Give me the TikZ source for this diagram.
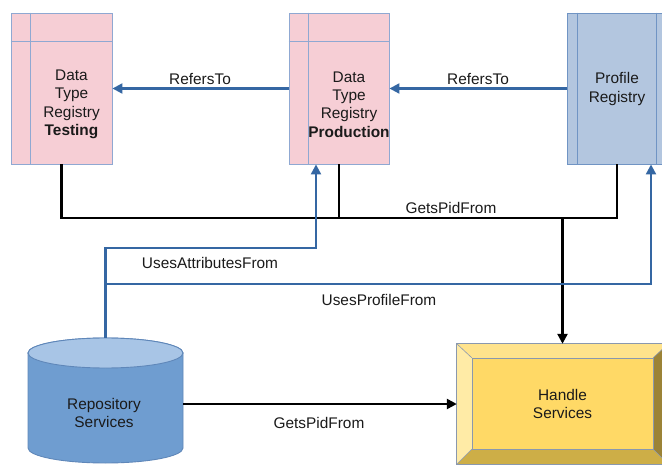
\documentclass[tikz,border=0pt]{standalone}
\usepackage{fontspec}
\setmainfont{Liberation Sans}
\usetikzlibrary{arrows.meta,calc}
\definecolor{pinkfill}{HTML}{F6CED5}
\definecolor{pinkdraw}{HTML}{8FA8D2}
\definecolor{proffill}{HTML}{B3C6DF}
\definecolor{profdraw}{HTML}{7094C4}
\definecolor{linkblue}{HTML}{3567A3}
\definecolor{cylbody}{HTML}{6F9DD0}
\definecolor{cyltop}{HTML}{A8C5E6}
\definecolor{cyldraw}{HTML}{5F87B9}
\definecolor{hmain}{HTML}{FFD966}
\definecolor{htop}{HTML}{FFE38C}
\definecolor{hleft}{HTML}{FFEBA6}
\definecolor{hbot}{HTML}{CDAE47}
\definecolor{hright}{HTML}{9C8336}
\definecolor{hdraw}{HTML}{8A98AE}
\definecolor{txt}{HTML}{1A1A1A}
\begin{document}
\begin{tikzpicture}[x=1bp,y=-1bp,
  every node/.style={font=\fontsize{15.4bp}{18.4bp}\selectfont, text=txt, inner sep=0pt},
  regbox/.style={draw=pinkdraw, fill=pinkfill, line width=0.9bp, minimum width=101bp, minimum height=151bp},
  profbox/.style={draw=profdraw, fill=proffill, line width=0.9bp, minimum width=100bp, minimum height=151bp},
  innerline/.style={line width=0.9bp},
  bluelink/.style={draw=linkblue, line width=2.2bp},
  bluearrow/.style={bluelink, -{Triangle[length=10bp,width=10bp]}},
  blacklink/.style={draw=black, line width=2.4bp},
  blackarrow/.style={blacklink, -{Triangle[length=10bp,width=10bp]}},
  lbl/.style={align=center},
  boxtext/.style={align=center}
]
\useasboundingbox (0,0) rectangle (662,465);
\fill[white] (0,0) rectangle (662,465);

% Data Type Registry Testing
\node[regbox] (tst) at (61.5,88.5) {};
\draw[innerline, pinkdraw] ([xshift=20bp]tst.north west) -- ([xshift=20bp]tst.south west);
\draw[innerline, pinkdraw] ([yshift=-29bp]tst.north west) -- ([yshift=-29bp]tst.north east);
\node[boxtext] (tsttxt) at (71.5,104.5) {Data\\Type\\Registry\\\textbf{Testing}};

% Data Type Registry Production
\node[regbox, minimum width=100bp] (prd) at (339,88.5) {};
\draw[innerline, pinkdraw] ([xshift=20bp]prd.north west) -- ([xshift=20bp]prd.south west);
\draw[innerline, pinkdraw] ([yshift=-29bp]prd.north west) -- ([yshift=-29bp]prd.north east);
\node[boxtext] (prdtxt) at (349,104.5) {Data\\Type\\Registry\\\textbf{Production}};

% Profile Registry
\node[profbox] (prf) at (617,88.5) {};
\draw[innerline, profdraw] ([xshift=11bp]prf.north west) -- ([xshift=11bp]prf.south west);
\draw[innerline, profdraw] ([xshift=-11bp]prf.north east) -- ([xshift=-11bp]prf.south east);
\node[boxtext] (prftxt) at (617,89) {Profile\\Registry};

% Repository Services (cylinder)
\node[minimum width=155bp, minimum height=125bp] (rep) at (105.5,400.5) {};
\draw[fill=cylbody, draw=cyldraw, line width=0.9bp]
  (28,353) -- (28,448) arc[start angle=180, end angle=360, x radius=77.5bp, y radius=15bp]
  -- (183,353) arc[start angle=0, end angle=180, x radius=77.5bp, y radius=15bp] -- cycle;
\draw[fill=cyltop, draw=cyldraw, line width=0.9bp] (105.5,353) ellipse[x radius=77.5bp, y radius=15bp];
\node[boxtext] (reptxt) at (104,413) {Repository\\Services};

% Handle Services (bevelled box)
\node[minimum width=211bp, minimum height=120bp] (hdl) at (562.5,404) {};
\coordinate (hA) at (hdl.north west);
\coordinate (hB) at (hdl.north east);
\coordinate (hC) at (hdl.south east);
\coordinate (hD) at (hdl.south west);
\coordinate (ha) at ($(hA)+(15,14)$);
\coordinate (hb) at ($(hB)+(-15,14)$);
\coordinate (hc) at ($(hC)+(-15,-15)$);
\coordinate (hd) at ($(hD)+(15,-15)$);
\fill[htop] (hA) -- (hB) -- (hb) -- (ha) -- cycle;
\fill[hright] (hB) -- (hC) -- (hc) -- (hb) -- cycle;
\fill[hbot] (hC) -- (hD) -- (hd) -- (hc) -- cycle;
\fill[hleft] (hD) -- (hA) -- (ha) -- (hd) -- cycle;
\fill[hmain] (ha) rectangle (hc);
\draw[hdraw, line width=0.9bp] (hA) rectangle (hC);
\draw[hdraw, line width=0.6bp] (ha) rectangle (hc);
\draw[hdraw, line width=0.6bp] (hA) -- (ha) (hB) -- (hb) (hC) -- (hc) (hD) -- (hd);
\node[boxtext] (hdltxt) at (562.5,404) {Handle\\Services};

% RefersTo arrows
\draw[bluearrow] (prd.west) -- (tst.east);
\node[lbl] (ref1) at (200,79) {RefersTo};
\draw[bluearrow] (prf.west) -- (prd.east);
\node[lbl] (ref2) at (478,79) {RefersTo};

% GetsPidFrom (registries -> handle)
\coordinate (gj) at (hdl.north |- 0,218);
\draw[blacklink] (tst.south) |- (prf.south |- gj) -- (prf.south);
\draw[blacklink] (prd.south) -- (prd.south |- gj);
\draw[blackarrow] (gj) -- (hdl.north);
\node[lbl] (gpf1) at (451,208) {GetsPidFrom};

% Uses links
\coordinate (ua) at (316,248);
\draw[bluearrow] (rep.north) |- (ua) -- (ua |- prd.south);
\node[lbl] (uaf) at (210,263) {UsesAttributesFrom};
\coordinate (up) at (651,284);
\draw[bluearrow] (rep.north |- up) -- (up) -- (up |- prf.south);
\node[lbl] (upf) at (379,299.5) {UsesProfileFrom};

% GetsPidFrom (repository -> handle)
\draw[blackarrow] (rep.east |- hdl.west) -- (hdl.west);
\node[lbl] (gpf2) at (319,422.5) {GetsPidFrom};
\end{tikzpicture}
\end{document}
